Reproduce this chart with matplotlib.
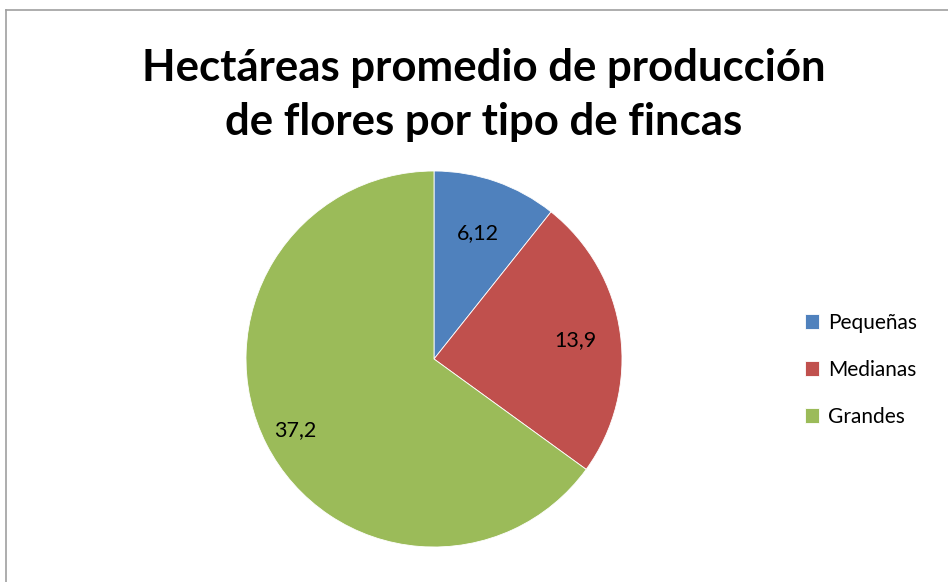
import numpy as np
import matplotlib.pyplot as plt
from matplotlib.lines import Line2D

# datos del grafico
categorias = ['Pequeñas', 'Medianas', 'Grandes']
hectareas = [6.12, 13.9, 37.2]
etiquetas = ['6,12', '13,9', '37,2']
colores = ['#4f81bd', '#c0504d', '#9bbb59']

plt.rcParams['font.family'] = ['Lato', 'DejaVu Sans']

fig = plt.figure(figsize=(9.48, 5.82), dpi=100)
# borde del area del grafico (solo se ven arriba y a la izquierda)
fig.add_artist(Line2D([6/948, 6/948], [0, 1 - 10/582], color='#a0a0a0', lw=1.2))
fig.add_artist(Line2D([6/948, 1], [1 - 10/582, 1 - 10/582], color='#a0a0a0', lw=1.2))

ax = fig.add_axes([246/948, 35/582, 376/948, 376/582])
wedges, _ = ax.pie(hectareas, colors=colores, startangle=90, counterclock=False,
                   radius=1, wedgeprops=dict(linewidth=0.6, edgecolor='white'))
ax.set_xlim(-1, 1)
ax.set_ylim(-1, 1)
ax.set_aspect('equal')

# etiquetas de datos en el angulo medio de cada porcion
dist = [0.71, 0.76, 0.83]
for w, txt, d in zip(wedges, etiquetas, dist):
    ang = np.deg2rad((w.theta1 + w.theta2) / 2)
    ax.text(d * np.cos(ang), d * np.sin(ang), txt, ha='center', va='center',
            fontsize=15.5, color='black')

fig.text(484/948, 1 - 95/582, 'Hectáreas promedio de producción\nde flores por tipo de fincas',
         ha='center', va='center', fontsize=31.5, fontweight='bold', linespacing=1.45)

leg = fig.legend(wedges, categorias, loc='center left', bbox_to_anchor=(786/948, 1 - 370/582),
                 frameon=False, fontsize=15, handlelength=0.7, handleheight=0.7,
                 handletextpad=0.4, labelspacing=1.3)

fig.savefig('out.png', dpi=100)
